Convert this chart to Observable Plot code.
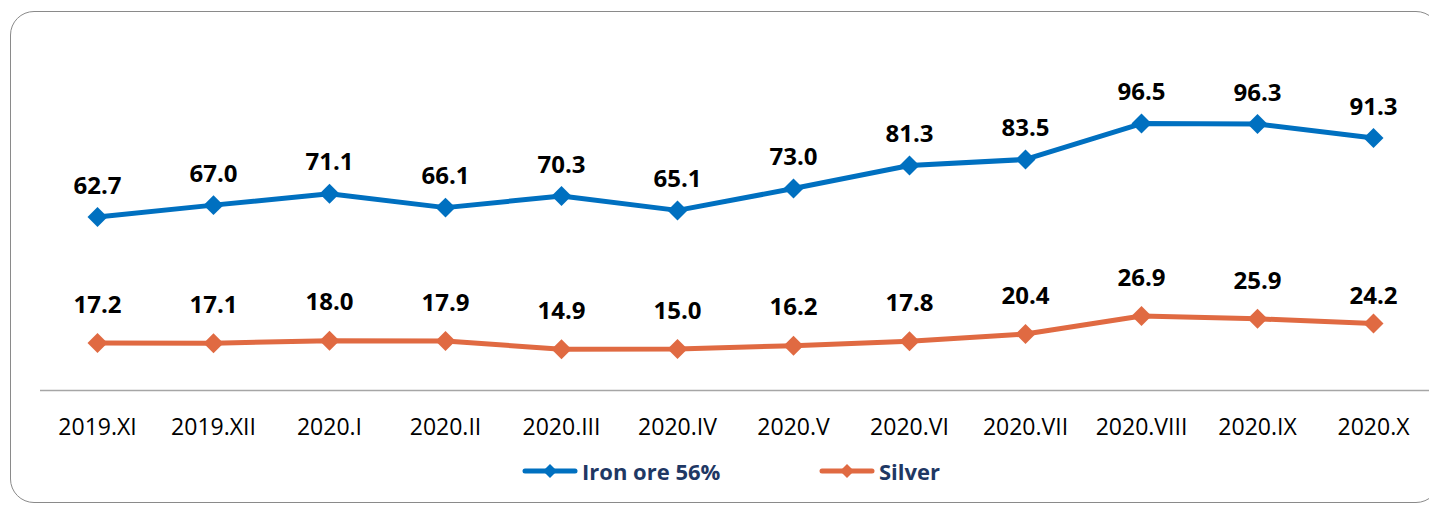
<!DOCTYPE html>
<html>
<head>
<meta charset="utf-8">
<script src="https://cdn.jsdelivr.net/npm/d3@7"></script>
<script src="https://cdn.jsdelivr.net/npm/@observablehq/plot@0.6"></script>
<style>
  html, body { margin: 0; padding: 0; background: #fff; overflow: hidden; }
  #page { position: relative; width: 1429px; height: 505px; overflow: hidden; }
  #frame { position: absolute; left: 10px; top: 11px; width: 1430px; height: 492px; border: 1.5px solid #8a8a8a; border-radius: 24px; box-sizing: border-box; }
  #chart { position: absolute; left: 0; top: 0; }
  #legend { position: absolute; left: 0; top: 456px; width: 1429px; height: 30px; font-family: "Open Sans", sans-serif; font-weight: bold; font-size: 22px; color: #1F3864; }
  .item { position: absolute; top: 0; display: flex; align-items: center; height: 30px; }
  .item svg { margin-right: 4px; }
</style>
</head>
<body>
<div id="page">
<div id="frame"></div>
<div id="chart"></div>
<div id="legend"></div>
</div>
<script>
const months = ["2019.XI","2019.XII","2020.I","2020.II","2020.III","2020.IV","2020.V","2020.VI","2020.VII","2020.VIII","2020.IX","2020.X"];
const ironOre = [62.7,67.0,71.1,66.1,70.3,65.1,73.0,81.3,83.5,96.5,96.3,91.3];
const silver = [17.2,17.1,18.0,17.9,14.9,15.0,16.2,17.8,20.4,26.9,25.9,24.2];
const seriesNames = ["Iron ore 56%","Silver"];
const seriesColors = ["#0070C0","#E06A42"];

const ironData = months.map((m, i) => ({month: m, value: ironOre[i], series: seriesNames[0], i}));
const silverData = months.map((m, i) => ({month: m, value: silver[i], series: seriesNames[1], i}));
const data = ironData.concat(silverData);
const fmt = d => d.value.toFixed(1);
const last = months.length - 1;

const chart = Plot.plot({
  width: 1429,
  height: 445,
  marginLeft: 39,
  marginRight: -2,
  marginTop: 58,
  marginBottom: 55,
  style: {fontFamily: "Open Sans, sans-serif", fontSize: "23px", background: "transparent", color: "#000", overflow: "visible"},
  x: {type: "point", domain: months, padding: 0.5, tickSize: 0, tickPadding: 28, label: null},
  y: {domain: [0, 120], axis: null},
  color: {domain: seriesNames, range: seriesColors},
  marks: [
    Plot.ruleY([0], {stroke: "#a6a6a6", strokeWidth: 1.5, insetLeft: 1}),
    Plot.line(data, {x: "month", y: "value", z: "series", stroke: "series", strokeWidth: 5}),
    Plot.dot(data, {x: "month", y: "value", fill: "series", symbol: "diamond2", r: 9}),
    Plot.text(ironData, {x: "month", y: "value", text: fmt, dy: -31, fontWeight: "bold", fontSize: 24, fill: "#000"}),
    Plot.text(silverData.filter(d => d.i !== last), {x: "month", y: "value", text: fmt, dy: -38, fontWeight: "bold", fontSize: 24, fill: "#000"}),
    Plot.text(silverData.filter(d => d.i === last), {x: "month", y: "value", text: fmt, dy: -27, fontWeight: "bold", fontSize: 24, fill: "#000"})
  ]
});
document.getElementById("chart").appendChild(chart);

const legend = document.getElementById("legend");
const legendLeft = [522, 819];
seriesNames.forEach((name, k) => {
  const item = document.createElement("div");
  item.className = "item";
  item.style.left = legendLeft[k] + "px";
  item.innerHTML = `<svg width="56" height="20"><line x1="3" y1="10" x2="53" y2="10" stroke="${seriesColors[k]}" stroke-width="5" stroke-linecap="round"/><path d="M28 3 L35 10 L28 17 L21 10 Z" fill="${seriesColors[k]}"/></svg><span>${name}</span>`;
  legend.appendChild(item);
});
</script>
</body>
</html>
